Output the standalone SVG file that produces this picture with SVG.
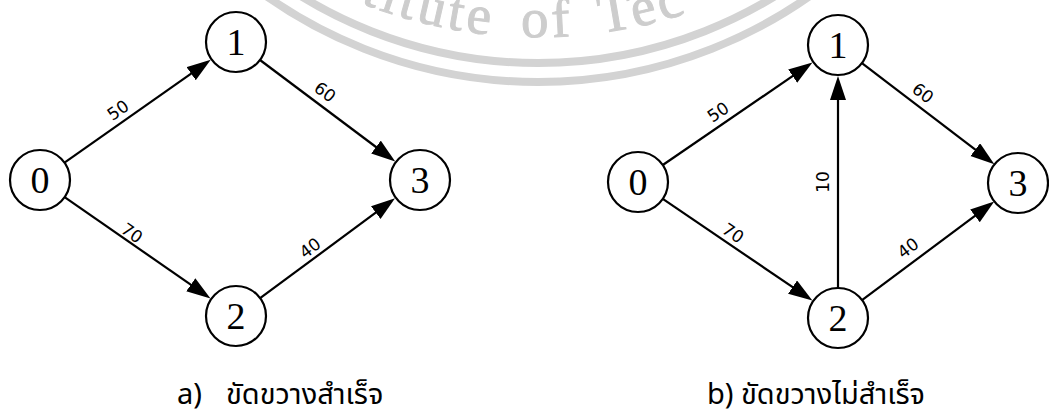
<svg xmlns="http://www.w3.org/2000/svg" width="1049" height="413" viewBox="0 0 1049 413">
<style>
.wm{fill:none;stroke:#d3d3d3;stroke-width:8}
.wmt{fill:#cdcdcd;stroke:#cdcdcd;stroke-width:1;font-family:"Liberation Serif",serif;font-size:55px;letter-spacing:4px;word-spacing:10px}
.node circle{fill:#fff;stroke:#000;stroke-width:2.2}
.node text{font-family:"Liberation Serif",serif;font-size:38px;text-anchor:middle;fill:#000}
.edge{stroke:#000;stroke-width:2.2;fill:none;marker-end:url(#ah)}
.lbl{font-family:"DejaVu Sans",sans-serif;font-size:17px;text-anchor:middle;fill:#000}
.cap{font-family:"Noto Sans","Noto Sans Thai","Noto Sans Thai UI",Loma,Garuda,"DejaVu Sans",sans-serif;font-size:29px;fill:#000}
</style>
<defs>
<marker id="ah" markerUnits="userSpaceOnUse" markerWidth="26" markerHeight="18" refX="10" refY="8" orient="auto">
<path d="M0,0 L24,8 L0,16 z" fill="#000"/>
</marker>
<path id="wmp" d="M58,-443 A480,480 0 0 0 1018,-443"/>
</defs>
<g id="watermark">
<circle class="wm" cx="538" cy="-390" r="472"/>
<circle class="wm" cx="538" cy="-390" r="453"/>
<text class="wmt"><textPath href="#wmp" startOffset="740" text-anchor="middle">titute of Tec</textPath></text>
</g>
<g id="connectors">
<line class="edge" x1="64.5" y1="162.7" x2="199.3" y2="67.9"/>
<line class="edge" x1="260" y1="60" x2="384" y2="153"/>
<line class="edge" x1="64.6" y1="197.1" x2="199" y2="290.4"/>
<line class="edge" x1="260.1" y1="298.2" x2="383.8" y2="206.7"/>
<line class="edge" x1="662.8" y1="165" x2="800.9" y2="70.4"/>
<line class="edge" x1="861.9" y1="63.2" x2="983.2" y2="155.7"/>
<line class="edge" x1="662.8" y1="198.9" x2="800.8" y2="292.7"/>
<line class="edge" x1="862" y1="300.1" x2="983" y2="209.9"/>
<line class="edge" x1="838" y1="288" x2="838" y2="90"/>
<text class="lbl" transform="translate(118,110) rotate(-35.2)" y="6">50</text>
<text class="lbl" transform="translate(325,92) rotate(36.9)" y="6">60</text>
<text class="lbl" transform="translate(132,233) rotate(34.8)" y="6">70</text>
<text class="lbl" transform="translate(310,248) rotate(-36.5)" y="6">40</text>
<text class="lbl" transform="translate(718,112) rotate(-34.4)" y="6">50</text>
<text class="lbl" transform="translate(923,93) rotate(37.3)" y="6">60</text>
<text class="lbl" transform="translate(733,233) rotate(34.2)" y="6">70</text>
<text class="lbl" transform="translate(908,248) rotate(-36.7)" y="6">40</text>
<text class="lbl" transform="translate(823,182) rotate(-90)" y="6">10</text>
</g>
<g id="a-n0" class="node"><circle cx="40" cy="180" r="30"/><text x="40" y="193">0</text></g>
<g id="a-n1" class="node"><circle cx="236" cy="42" r="30"/><text x="236" y="55">1</text></g>
<g id="a-n2" class="node"><circle cx="236" cy="316" r="30"/><text x="236" y="329">2</text></g>
<g id="a-n3" class="node"><circle cx="420" cy="180" r="30"/><text x="420" y="193">3</text></g>
<g id="b-n0" class="node"><circle cx="638" cy="182" r="30"/><text x="638" y="195">0</text></g>
<g id="b-n1" class="node"><circle cx="838" cy="45" r="30"/><text x="838" y="58">1</text></g>
<g id="b-n2" class="node"><circle cx="838" cy="318" r="30"/><text x="838" y="331">2</text></g>
<g id="b-n3" class="node"><circle cx="1018" cy="183" r="30"/><text x="1018" y="196">3</text></g>
<g id="captions">
<text class="cap" y="404"><tspan x="177">a)</tspan><tspan x="226">ขัดขวางสำเร็จ</tspan></text>
<text class="cap" y="404"><tspan x="707">b)</tspan><tspan x="741">ขัดขวางไม่สำเร็จ</tspan></text>
</g>
</svg>
